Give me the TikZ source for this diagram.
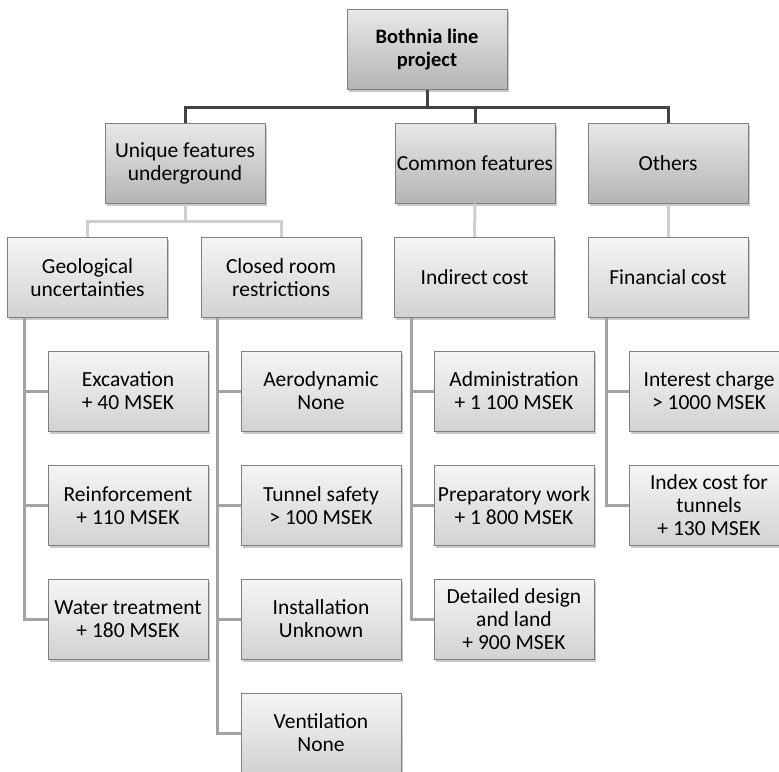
\documentclass[tikz,border=0pt]{standalone}
\usepackage{fontspec}
\setmainfont{Carlito}
\usetikzlibrary{
    positioning, % Required for relative placement
    shadows,     % Required for "drop shadow"
    calc         % Required for coordinate calculations
}

\definecolor{boxrim}{HTML}{7F7F7F}
\definecolor{lowtop}{HTML}{F5F5F5}
\definecolor{lowbot}{HTML}{D2D2D2}
\definecolor{hightop}{HTML}{E8E8E8}
\definecolor{highbot}{HTML}{B4B4B4}
\definecolor{busgray}{HTML}{424242}
\definecolor{midgray}{HTML}{CFCFCF}
\definecolor{leafgray}{HTML}{A3A3A3}

\begin{document}
\begin{tikzpicture}[x=1pt, y=-1pt,
    box/.style={draw=boxrim, line width=1pt, align=center, inner sep=1pt,
        minimum width=160pt, minimum height=80pt,
        top color=lowtop, bottom color=lowbot,
        drop shadow={shadow xshift=1.5pt, shadow yshift=-2.5pt, opacity=0.3, fill=black!70},
        font=\fontsize{21.5}{23}\selectfont},
    headbox/.style={box, top color=hightop, bottom color=highbot},
    busline/.style={draw=busgray, line width=3pt},
    midline/.style={draw=midgray, line width=3pt},
    leafline/.style={draw=leafgray, line width=3pt}
]
    \useasboundingbox (0,0) rectangle (779,771);

    % Root and first level
    \node[headbox, font=\fontsize{20.5}{23}\selectfont\bfseries] (root) at (427,49.5) {Bothnia line\\project};
    \node[headbox] (uniq) at (185,163) {Unique features\\underground};
    \node[headbox] (comm) at (475,163) {Common features};
    \node[headbox] (oth)  at (668,163) {Others};

    % Second level
    \node[box] (geo)    at (87.5,277.5) {Geological\\uncertainties};
    \node[box] (closed) at (281,277.5)  {Closed room\\restrictions};
    \node[box] (indir)  at (474.5,277.5) {Indirect cost};
    \node[box] (fin)    at (668,277.5)  {Financial cost};

    % Geological uncertainties
    \node[box] (exc) at (128,391)   {Excavation\\+ 40 MSEK};
    \node[box] (rei) at (128,505.5) {Reinforcement\\+ 110 MSEK};
    \node[box] (wat) at (128,619)   {Water treatment\\+ 180 MSEK};

    % Closed room restrictions
    \node[box] (aero) at (321,391)   {Aerodynamic\\None};
    \node[box] (safe) at (321,505.5) {Tunnel safety\\> 100 MSEK};
    \node[box] (inst) at (321,619)   {Installation\\Unknown};
    \node[box] (vent) at (321,733)   {Ventilation\\None};

    % Indirect cost
    \node[box] (admin) at (514,391)   {Administration\\+ 1 100 MSEK};
    \node[box] (prep)  at (514,505.5) {Preparatory work\\+ 1 800 MSEK};
    \node[box] (design) at (514,619)  {Detailed design\\and land\\+ 900 MSEK};

    % Financial cost
    \node[box] (rate)  at (709,391)   {Interest charge\\> 1000 MSEK};
    \node[box] (index) at (709,505.5) {Index cost for\\tunnels\\+ 130 MSEK};

    % Connectors from the root
    \draw[busline] (root.south) -- ++(0,17.5) coordinate (bus);
    \foreach \kid in {uniq,comm,oth}
        \draw[busline] (bus) -| (\kid.north);

    % Connectors to the second level
    \draw[midline] (uniq.south) -- ++(0,18) coordinate (fork);
    \draw[midline] (fork) -| (geo.north);
    \draw[midline] (fork) -| (closed.north);
    \draw[midline] (comm) -- (indir);
    \draw[midline] (oth) -- (fin);

    % Connectors to the leaves
    \foreach \kid in {exc,rei,wat}
        \draw[leafline] ($(geo.south west)+(17,0)$) |- (\kid.west);
    \foreach \kid in {aero,safe,inst,vent}
        \draw[leafline] ($(closed.south west)+(17,0)$) |- (\kid.west);
    \foreach \kid in {admin,prep,design}
        \draw[leafline] ($(indir.south west)+(17,0)$) |- (\kid.west);
    \foreach \kid in {rate,index}
        \draw[leafline] ($(fin.south west)+(19,0)$) |- (\kid.west);
\end{tikzpicture}
\end{document}
